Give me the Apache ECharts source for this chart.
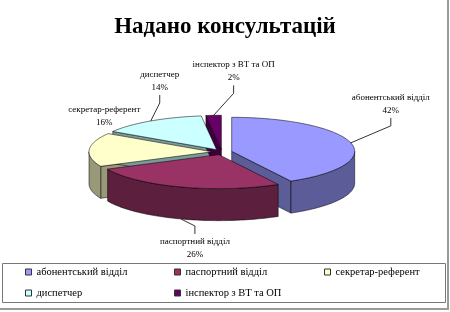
<!DOCTYPE html>
<html>
<head>
<meta charset="utf-8">
<script src="https://cdn.jsdelivr.net/npm/echarts@6/dist/echarts.min.js"></script>
<style>
  html, body { margin: 0; padding: 0; background: #fff; }
  #chart { width: 450px; height: 312px; }
</style>
</head>
<body>
<div id="chart"></div>
<script>
// data
const categories = ['абонентський відділ', 'паспортний відділ', 'секретар-референт', 'диспетчер', 'інспектор з ВТ та ОП'];
const values = [42, 26, 16, 14, 2];
const colors = ['#9999FF', '#993366', '#FFFFCC', '#CCFFFF', '#660066'];

// layout of the 3d pie
const CX = 222, CY = 152, RX = 123, RY = 34, DEPTH = 32, EXPLODE = 10;
const FONT = '"Liberation Serif", "Times New Roman", serif';
// label centre relative to the slice anchor, and whether a leader is drawn
const labelShift = [[40, -39], [14, 29], [15, -34], [9, -40], [20, -44]];
const showLeader = [true, true, false, true, true];
// legend columns: which categories, and x of the column
const legendCols = [[[0, 3], 25], [[1, 4], 174], [[2], 324]];

const shade = (hex, k) => {
  const n = parseInt(hex.slice(1), 16);
  const c = [(n >> 16) & 255, (n >> 8) & 255, n & 255].map(v => Math.round(v * k));
  return 'rgb(' + c.join(',') + ')';
};

const total = values.reduce((a, b) => a + b, 0);

const renderSlice = (params, api) => {
  const i = params.dataIndex;
  const v = api.value(0);
  let before = 0;
  for (let k = 0; k < i; k++) before += values[k];
  const a0 = -Math.PI / 2 + before / total * Math.PI * 2;
  const a1 = a0 + v / total * Math.PI * 2;
  const m = (a0 + a1) / 2;
  const cx = CX + EXPLODE * Math.cos(m);
  const cy = CY + EXPLODE * RY / RX * Math.sin(m);
  const pt = (t, dz) => [cx + RX * Math.cos(t), cy + RY * Math.sin(t) + (dz || 0)];
  const arc = (s, e, dz) => {
    const n = Math.max(2, Math.ceil((e - s) / 0.03));
    const out = [];
    for (let k = 0; k <= n; k++) out.push(pt(s + (e - s) * k / n, dz));
    return out;
  };
  const top = colors[i];
  const side = shade(colors[i], 0.6);
  const line = { stroke: 'rgba(0,0,0,0.75)', lineWidth: 0.7, lineJoin: 'round' };
  const kids = [];

  // radial faces that look to the viewer
  const radial = (t) => ({
    type: 'polygon',
    z2: 1,
    shape: { points: [[cx, cy], pt(t), pt(t, DEPTH), [cx, cy + DEPTH]] },
    style: Object.assign({ fill: side }, line)
  });
  if (Math.cos(a0) < 0) kids.push(radial(a0));
  if (Math.cos(a1) > 0) kids.push(radial(a1));

  // outer wall, front half only
  const s = Math.max(a0, 0), e = Math.min(a1, Math.PI);
  if (s < e) {
    kids.push({
      type: 'polygon',
      z2: 2,
      shape: { points: arc(s, e, 0).concat(arc(s, e, DEPTH).reverse()) },
      style: Object.assign({ fill: side }, line)
    });
  }

  // top face
  kids.push({
    type: 'polygon',
    z2: 3,
    shape: { points: [[cx, cy]].concat(arc(a0, a1, 0)) },
    style: Object.assign({ fill: top }, line)
  });

  // label
  const front = Math.sin(m) > 0.5;
  const anchor = pt(m, front ? DEPTH : 0);
  const lx = anchor[0] + labelShift[i][0];
  const ly = anchor[1] + labelShift[i][1];
  kids.push({
    type: 'text',
    z2: 5,
    x: lx,
    y: ly,
    style: {
      text: categories[i] + '\n' + Math.round(v / total * 100) + '%',
      fill: '#000',
      font: '9px ' + FONT,
      lineHeight: 13,
      align: 'center',
      verticalAlign: 'middle'
    }
  });
  if (showLeader[i]) {
    const edge = front ? ly - 14 : ly + 14;
    const dir = front ? -1 : 1;
    kids.push({
      type: 'polyline',
      z2: 5,
      shape: { points: [anchor, [lx, edge + dir * 8], [lx, edge]] },
      style: { stroke: '#000', lineWidth: 0.8, fill: null }
    });
  }
  return { type: 'group', children: kids };
};

const chart = echarts.init(document.getElementById('chart'));

const legends = legendCols.map(([idx, x]) => ({
  orient: 'vertical',
  icon: 'rect',
  itemWidth: 6,
  itemHeight: 6,
  itemGap: 9,
  left: x,
  top: 266,
  padding: 0,
  selectedMode: false,
  data: idx.map(k => categories[k]),
  itemStyle: { borderColor: '#333', borderWidth: 1 },
  textStyle: { color: '#000', fontSize: 10.5, lineHeight: 12, fontFamily: FONT }
}));

chart.setOption({
  backgroundColor: '#fff',
  animation: false,
  color: colors,
  title: {
    text: 'Надано консультацій',
    left: 'center',
    top: 11,
    textStyle: { color: '#000', fontSize: 23, fontWeight: 'bold', fontFamily: FONT }
  },
  legend: legends,
  graphic: [
    { type: 'rect', shape: { x: 2.5, y: 263.5, width: 443, height: 39 }, style: { fill: null, stroke: '#777', lineWidth: 1 } },
    { type: 'line', shape: { x1: 448, y1: 0, x2: 448, y2: 310 }, style: { stroke: '#9a9a9a', lineWidth: 2 } },
    { type: 'line', shape: { x1: 0, y1: 309, x2: 449, y2: 309 }, style: { stroke: '#9a9a9a', lineWidth: 2 } }
  ],
  series: [
    {
      // only feeds the legend names and colours
      type: 'pie',
      radius: 0,
      silent: true,
      label: { show: false },
      labelLine: { show: false },
      data: categories.map((name, i) => ({ name: name, value: values[i] }))
    },
    {
      type: 'custom',
      coordinateSystem: 'none',
      silent: true,
      renderItem: renderSlice,
      data: values.map(v => [v])
    }
  ]
});
</script>
</body>
</html>
